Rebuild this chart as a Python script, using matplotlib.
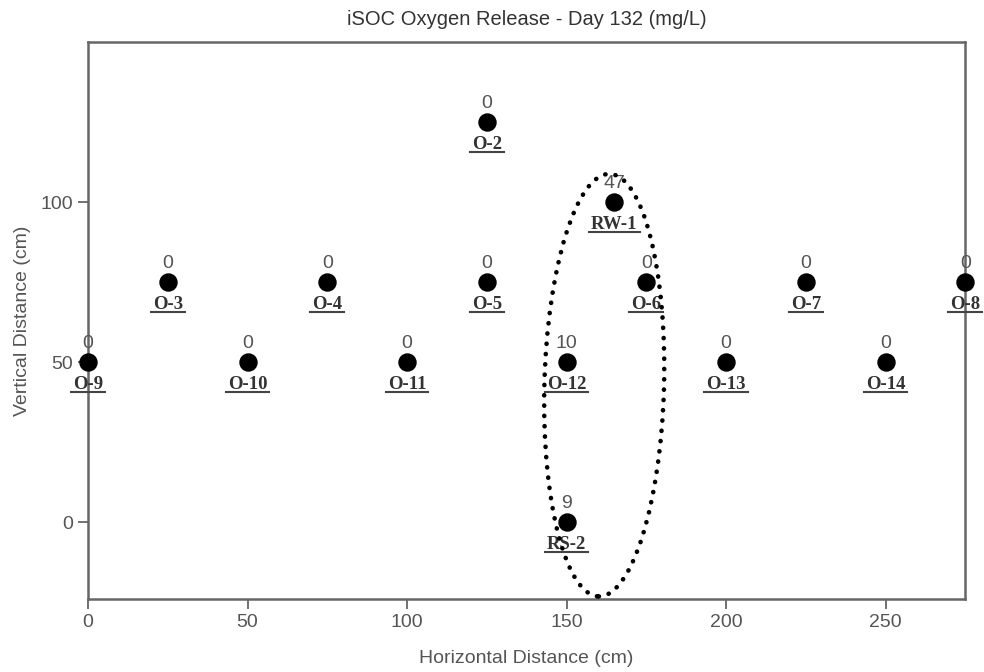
import matplotlib
matplotlib.use("Agg")
import matplotlib.pyplot as plt
from matplotlib.patches import Ellipse
from matplotlib.lines import Line2D

# Sampling wells: name, horizontal / vertical position (cm), dissolved O2 (mg/L)
wells = ["O-2", "RW-1", "O-3", "O-4", "O-5", "O-6", "O-7", "O-8",
         "O-9", "O-10", "O-11", "O-12", "O-13", "O-14", "RS-2"]
x_cm = [125, 165, 25, 75, 125, 175, 225, 275,
        0, 50, 100, 150, 200, 250, 150]
y_cm = [125, 100, 75, 75, 75, 75, 75, 75,
        50, 50, 50, 50, 50, 50, 0]
oxygen = [0, 47, 0, 0, 0, 0, 0, 0,
          0, 0, 0, 10, 0, 0, 9]

x_ticks = [0, 50, 100, 150, 200, 250]
y_ticks = [0, 50, 100]

grey = "#555555"
sans = "Liberation Sans"
fig = plt.figure(figsize=(9.84, 6.72), dpi=100)
ax = fig.add_axes([0.0894, 0.1086, 0.8917, 0.8289])
ax.set_xlim(0, 275)
ax.set_ylim(-24, 150)

ax.scatter(x_cm, y_cm, s=150, color="black", zorder=3, clip_on=False)

labels = []
for name, x, y, v in zip(wells, x_cm, y_cm, oxygen):
    ax.annotate(str(v), (x, y), xytext=(0, 13.5), textcoords="offset points",
                ha="center", va="center", fontsize=14, color=grey,
                family=sans, annotation_clip=False, zorder=4)
    t = ax.annotate(name, (x, y), xytext=(0, -19.5), textcoords="offset points",
                    ha="center", va="baseline", fontsize=13.5, color="#333333",
                    family="Liberation Serif", fontweight="bold",
                    annotation_clip=False, zorder=4)
    labels.append(t)

# Dotted outline around the wells with measurable oxygen
ring = Ellipse((161.8, 42.8), width=37.5, height=132, angle=-1.5, fill=False,
               linestyle=(0, (0.05, 2.2)), linewidth=3.3, edgecolor="black",
               capstyle="round", zorder=5, clip_on=False)
ax.add_patch(ring)

ax.set_xticks(x_ticks)
ax.set_yticks(y_ticks)
ax.tick_params(direction="out", length=7.5, width=1.3, colors="#666666",
               labelsize=14, labelcolor=grey, pad=3)
for s in ax.spines.values():
    s.set_color("#666666")
    s.set_linewidth(1.8)
for lbl in ax.get_xticklabels() + ax.get_yticklabels():
    lbl.set_family(sans)

ax.set_xlabel("Horizontal Distance (cm)", fontsize=14, color=grey,
              family=sans, labelpad=14)
ax.set_ylabel("Vertical Distance (cm)", fontsize=14, color=grey,
              family=sans, labelpad=7)
ax.set_title("iSOC Oxygen Release - Day 132 (mg/L)", fontsize=14.5,
             color="#333333", family=sans, pad=12)

# Underline each well name just below its baseline
fig.canvas.draw()
renderer = fig.canvas.get_renderer()
px_per_pt = fig.dpi / 72.0
for t in labels:
    bb = t.get_window_extent(renderer)
    anchor = ax.transData.transform(t.xy)
    yline = anchor[1] - 21.5 * px_per_pt
    fig.add_artist(Line2D([bb.x0 - 2, bb.x1 + 2], [yline, yline],
                          transform=None, color="#444444", linewidth=1.5,
                          zorder=4))

fig.savefig("out.png", dpi=100)
